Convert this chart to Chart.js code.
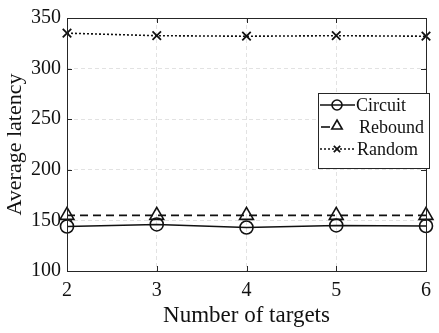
<!DOCTYPE html>
<html><head><meta charset="utf-8">
<script src="https://cdn.jsdelivr.net/npm/chart.js@4"></script>
<style>html,body{margin:0;padding:0;background:#fff}#w{width:439px;height:333px}</style>
</head><body><div id="w"><canvas id="c" width="439" height="333"></canvas></div>
<script>
const categories = [2, 3, 4, 5, 6];
const circuit = [144, 146, 143, 145, 144.5];
const rebound = [155, 155, 155, 155, 155];
const random = [335, 332.5, 332, 332.5, 332];
const yTicks = [100, 150, 200, 250, 300, 350];
const seriesNames = ['Circuit', 'Rebound', 'Random'];

const FONT = '"Liberation Serif", "Times New Roman", serif';
const INK = '#111';

const frame = {
  id: 'frame',
  afterDraw(chart) {
    const {ctx, chartArea: a, scales: {x, y}} = chart;
    ctx.save();
    ctx.strokeStyle = '#262626';
    ctx.lineWidth = 1;
    ctx.setLineDash([]);
    ctx.beginPath();
    categories.forEach(v => {
      const px = Math.round(x.getPixelForValue(v)) + 0.5;
      ctx.moveTo(px, a.bottom); ctx.lineTo(px, a.bottom - 5);
      ctx.moveTo(px, a.top); ctx.lineTo(px, a.top + 5);
    });
    yTicks.forEach(v => {
      const py = Math.round(y.getPixelForValue(v)) + 0.5;
      ctx.moveTo(a.left, py); ctx.lineTo(a.left + 5, py);
      ctx.moveTo(a.right, py); ctx.lineTo(a.right - 5, py);
    });
    ctx.stroke();
    ctx.strokeRect(Math.round(a.left) + 0.5, Math.round(a.top) + 0.5, Math.round(a.right - a.left), Math.round(a.bottom - a.top));
    ctx.restore();
  }
};

const boxLegend = {
  id: 'boxLegend',
  afterDraw(chart) {
    const {ctx} = chart;
    const L = 318, T = 93, R = 429, B = 168;
    ctx.save();
    ctx.fillStyle = '#fff';
    ctx.fillRect(L, T, R - L, B - T);
    ctx.strokeStyle = '#262626';
    ctx.lineWidth = 1;
    ctx.setLineDash([]);
    ctx.strokeRect(L + 0.5, T + 0.5, R - L, B - T);
    const rows = [105, 127, 149];
    const textX = [356, 359, 357];
    const legR = [5, 6, 4.5];
    chart.data.datasets.forEach((ds, i) => {
      const cy = rows[i];
      ctx.strokeStyle = ds.borderColor;
      ctx.lineWidth = ds.borderWidth;
      ctx.setLineDash(ds.borderDash || []);
      ctx.beginPath();
      if (i === 1) { ctx.setLineDash([]); ctx.moveTo(321, cy); ctx.lineTo(330, cy); }
      else { ctx.moveTo(320, cy); ctx.lineTo(355, cy); }
      ctx.stroke();
      ctx.setLineDash([]);
      ctx.fillStyle = 'rgba(0,0,0,0)';
      ctx.strokeStyle = INK;
      ctx.lineWidth = ds.pointBorderWidth;
      Chart.helpers.drawPoint(ctx, {pointStyle: ds.pointStyle, radius: legR[i], borderWidth: ds.pointBorderWidth}, 337, i === 1 ? cy - 1 : cy);
      ctx.fillStyle = INK;
      ctx.font = '18px ' + FONT;
      ctx.textBaseline = 'middle';
      ctx.fillText(ds.label, textX[i], cy + 1);
    });
    ctx.restore();
  }
};

new Chart(document.getElementById('c'), {
  type: 'line',
  data: {
    labels: categories,
    datasets: [
      {label: seriesNames[0], data: circuit, borderColor: INK, borderWidth: 1.6, pointStyle: 'circle', pointRadius: 6.5, pointBorderWidth: 1.6, pointBackgroundColor: 'rgba(0,0,0,0)', pointBorderColor: INK},
      {label: seriesNames[1], data: rebound, borderColor: INK, borderWidth: 1.6, borderDash: [8, 5], pointStyle: 'triangle', pointRadius: 8, pointBorderWidth: 1.6, pointBackgroundColor: 'rgba(0,0,0,0)', pointBorderColor: INK},
      {label: seriesNames[2], data: random, borderColor: INK, borderWidth: 1.6, borderDash: [2, 2], pointStyle: 'crossRot', pointRadius: 6, pointBorderWidth: 1.8, pointBackgroundColor: 'rgba(0,0,0,0)', pointBorderColor: INK}
    ]
  },
  options: {
    responsive: false,
    animation: false,
    clip: false,
    layout: {padding: {top: 12, right: 6, left: 2, bottom: 3}},
    plugins: {legend: {display: false}, tooltip: {enabled: false}},
    scales: {
      x: {
        type: 'linear', min: 2, max: 6,
        afterBuildTicks: s => { s.ticks = categories.map(v => ({value: v})); },
        afterFit: s => { s.height = 59; },
        grid: {color: '#e2e2e2', lineWidth: 1, drawTicks: false},
        border: {display: false, dash: [4, 3]},
        ticks: {color: INK, font: {family: FONT, size: 20}, padding: 8, maxRotation: 0},
        title: {display: true, text: 'Number of targets', color: INK, font: {family: FONT, size: 23}, padding: {top: 0, bottom: 0}}
      },
      y: {
        min: 100, max: 350,
        afterBuildTicks: s => { s.ticks = yTicks.map(v => ({value: v})); },
        afterFit: s => { s.width = 65; },
        grid: {color: '#e2e2e2', lineWidth: 1, drawTicks: false},
        border: {display: false, dash: [4, 3]},
        ticks: {color: INK, font: {family: FONT, size: 20}, padding: 6},
        title: {display: true, text: 'Average latency', color: INK, font: {family: FONT, size: 22}, padding: {top: 0, bottom: 0}}
      }
    }
  },
  plugins: [frame, boxLegend]
});
</script></body></html>
